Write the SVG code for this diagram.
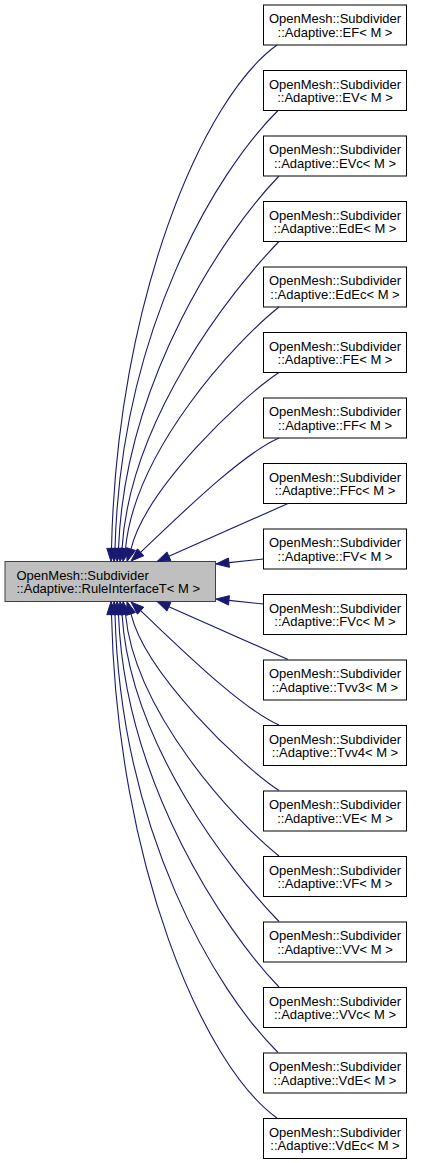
<svg xmlns="http://www.w3.org/2000/svg" width="425" height="1163" viewBox="0 0 425 1163">
<style>
.box{fill:#ffffff;stroke:#000000;stroke-width:1}
.main{fill:#bfbfbf;stroke:#404040;stroke-width:1}
text{font-family:"Liberation Sans",Arial,sans-serif;font-size:13px;fill:#000000}
.c{text-anchor:middle}
.edge path{fill:none;stroke:#191970;stroke-width:1.1}
.edge polygon{fill:#191970;stroke:#191970;stroke-width:1}
</style>
<rect width="425" height="1163" fill="#ffffff"/>
<g id="node-main"><rect class="main" x="5" y="561.5" width="210.5" height="40"/><text x="16.5" y="579.5">OpenMesh::Subdivider</text><text x="16.5" y="593">::Adaptive::RuleInterfaceT&lt; M &gt;</text></g>
<g id="node-EF"><rect class="box" x="263.5" y="5" width="143" height="40"/><text class="c" x="335" y="23">OpenMesh::Subdivider</text><text class="c" x="335" y="36.5">::Adaptive::EF&lt; M &gt;</text></g>
<g id="node-EV"><rect class="box" x="263.5" y="70.5" width="143" height="40"/><text class="c" x="335" y="88.5">OpenMesh::Subdivider</text><text class="c" x="335" y="102">::Adaptive::EV&lt; M &gt;</text></g>
<g id="node-EVc"><rect class="box" x="263.5" y="136" width="143" height="40"/><text class="c" x="335" y="154">OpenMesh::Subdivider</text><text class="c" x="335" y="167.5">::Adaptive::EVc&lt; M &gt;</text></g>
<g id="node-EdE"><rect class="box" x="263.5" y="201.5" width="143" height="40"/><text class="c" x="335" y="219.5">OpenMesh::Subdivider</text><text class="c" x="335" y="233">::Adaptive::EdE&lt; M &gt;</text></g>
<g id="node-EdEc"><rect class="box" x="263.5" y="267" width="143" height="40"/><text class="c" x="335" y="285">OpenMesh::Subdivider</text><text class="c" x="335" y="298.5">::Adaptive::EdEc&lt; M &gt;</text></g>
<g id="node-FE"><rect class="box" x="263.5" y="332.5" width="143" height="40"/><text class="c" x="335" y="350.5">OpenMesh::Subdivider</text><text class="c" x="335" y="364">::Adaptive::FE&lt; M &gt;</text></g>
<g id="node-FF"><rect class="box" x="263.5" y="398" width="143" height="40"/><text class="c" x="335" y="416">OpenMesh::Subdivider</text><text class="c" x="335" y="429.5">::Adaptive::FF&lt; M &gt;</text></g>
<g id="node-FFc"><rect class="box" x="263.5" y="463.5" width="143" height="40"/><text class="c" x="335" y="481.5">OpenMesh::Subdivider</text><text class="c" x="335" y="495">::Adaptive::FFc&lt; M &gt;</text></g>
<g id="node-FV"><rect class="box" x="263.5" y="529" width="143" height="40"/><text class="c" x="335" y="547">OpenMesh::Subdivider</text><text class="c" x="335" y="560.5">::Adaptive::FV&lt; M &gt;</text></g>
<g id="node-FVc"><rect class="box" x="263.5" y="594.5" width="143" height="40"/><text class="c" x="335" y="612.5">OpenMesh::Subdivider</text><text class="c" x="335" y="626">::Adaptive::FVc&lt; M &gt;</text></g>
<g id="node-Tvv3"><rect class="box" x="263.5" y="660" width="143" height="40"/><text class="c" x="335" y="678">OpenMesh::Subdivider</text><text class="c" x="335" y="691.5">::Adaptive::Tvv3&lt; M &gt;</text></g>
<g id="node-Tvv4"><rect class="box" x="263.5" y="725.5" width="143" height="40"/><text class="c" x="335" y="743.5">OpenMesh::Subdivider</text><text class="c" x="335" y="757">::Adaptive::Tvv4&lt; M &gt;</text></g>
<g id="node-VE"><rect class="box" x="263.5" y="791" width="143" height="40"/><text class="c" x="335" y="809">OpenMesh::Subdivider</text><text class="c" x="335" y="822.5">::Adaptive::VE&lt; M &gt;</text></g>
<g id="node-VF"><rect class="box" x="263.5" y="856.5" width="143" height="40"/><text class="c" x="335" y="874.5">OpenMesh::Subdivider</text><text class="c" x="335" y="888">::Adaptive::VF&lt; M &gt;</text></g>
<g id="node-VV"><rect class="box" x="263.5" y="922" width="143" height="40"/><text class="c" x="335" y="940">OpenMesh::Subdivider</text><text class="c" x="335" y="953.5">::Adaptive::VV&lt; M &gt;</text></g>
<g id="node-VVc"><rect class="box" x="263.5" y="987.5" width="143" height="40"/><text class="c" x="335" y="1005.5">OpenMesh::Subdivider</text><text class="c" x="335" y="1019">::Adaptive::VVc&lt; M &gt;</text></g>
<g id="node-VdE"><rect class="box" x="263.5" y="1053" width="143" height="40"/><text class="c" x="335" y="1071">OpenMesh::Subdivider</text><text class="c" x="335" y="1084.5">::Adaptive::VdE&lt; M &gt;</text></g>
<g id="node-VdEc"><rect class="box" x="263.5" y="1118.5" width="143" height="40"/><text class="c" x="335" y="1136.5">OpenMesh::Subdivider</text><text class="c" x="335" y="1150">::Adaptive::VdEc&lt; M &gt;</text></g>
<g id="connectors" class="edge">
<path d="M111.5,548.5 C117,300 203,98 277,45"/><polygon points="116.2,548.7 111,561.5 106.8,548.3"/>
<path d="M115,548.5 C121,330 216,172 278,110.5"/><polygon points="119.69,548.86 114,561.5 110.31,548.14"/>
<path d="M118.5,548.6 C125,380 225,232 279,176"/><polygon points="123.17,549.14 117,561.5 113.83,548.06"/>
<path d="M122,548.7 C130,420 230,292 279,241.5"/><polygon points="126.64,549.42 120,561.5 117.36,547.98"/>
<path d="M125.5,548.7 C135,450 235,342 279,307"/><polygon points="130.11,549.6 123,561.5 120.89,547.8"/>
<path d="M131,549.1 C145,490 240,398 279,372.5"/><polygon points="135.47,550.54 127,561.5 126.53,547.66"/>
<path d="M140.6,552.3 C175,520 240,455 279,438"/><polygon points="143.75,555.78 131,561 137.45,548.82"/>
<path d="M168.9,556.2 C210,538 250,520 288,503.5"/><polygon points="170.79,560.49 157,561.5 166.95,551.91"/>
<path d="M228.9,562.6 L263.5,559"/><polygon points="229.43,567.33 216,564 228.45,557.97"/>
<path d="M228.9,600.4 L263.5,604"/><polygon points="229.43,595.67 216,599 228.45,605.03"/>
<path d="M168.9,606.8 C210,625 250,643 288,659.5"/><polygon points="170.79,602.51 157,601.5 166.95,611.09"/>
<path d="M140.6,610.7 C175,643 240,708 279,725"/><polygon points="143.75,607.22 131,602 137.45,614.18"/>
<path d="M131,613.9 C145,673 240,765 279,790.5"/><polygon points="135.47,612.46 127,601.5 126.53,615.34"/>
<path d="M125.5,614.3 C135,713 235,821 279,856"/><polygon points="130.11,613.4 123,601.5 120.89,615.2"/>
<path d="M122,614.3 C130,743 230,871 279,921.5"/><polygon points="126.64,613.58 120,601.5 117.36,615.02"/>
<path d="M118.5,614.4 C125,783 225,931 279,987"/><polygon points="123.17,613.86 117,601.5 113.83,614.94"/>
<path d="M115,614.5 C121,833 216,991 278,1052.5"/><polygon points="119.69,614.14 114,601.5 110.31,614.86"/>
<path d="M111.5,614.5 C117,863 203,1065 277,1118"/><polygon points="116.2,614.3 111,601.5 106.8,614.7"/>
</g>
</svg>
